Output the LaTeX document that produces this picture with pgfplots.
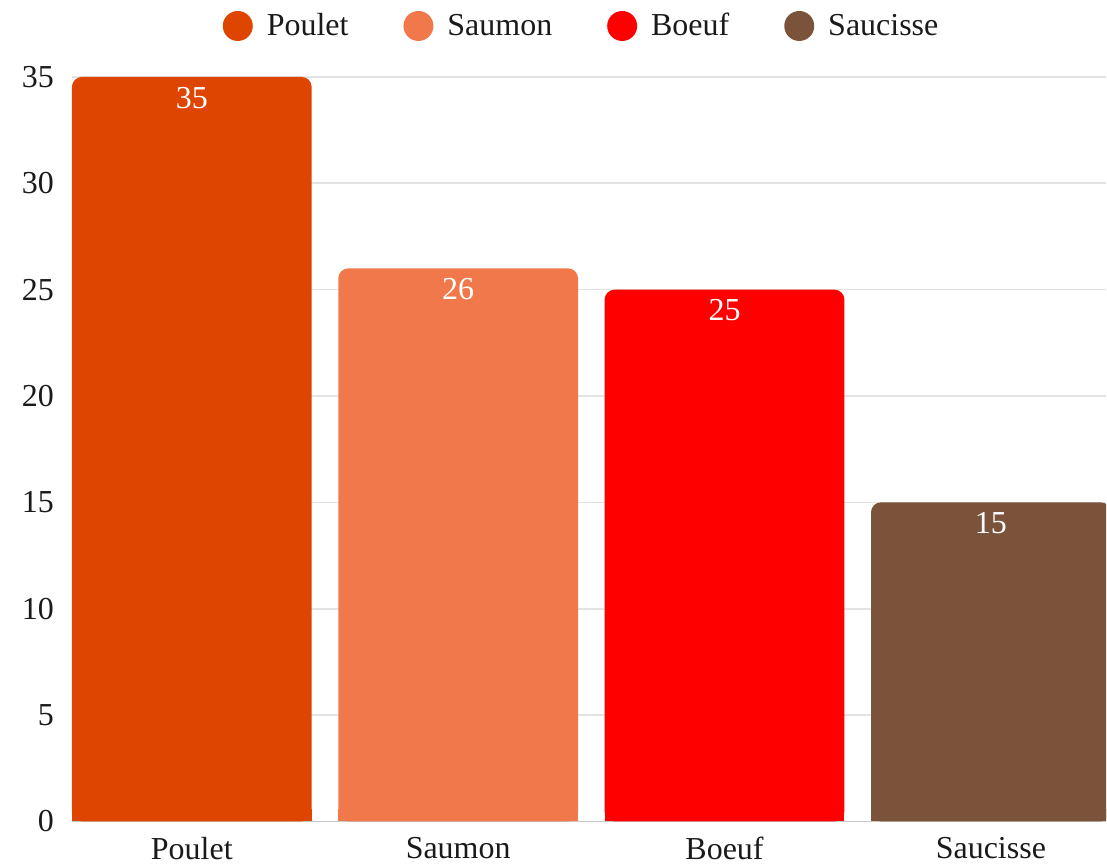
\documentclass[border=0pt]{standalone}
\usepackage{pgfplots}
\pgfplotsset{compat=1.18}
\usepackage{fontspec}
\setmainfont{Liberation Serif}
\definecolor{cPoulet}{HTML}{DD4500}
\definecolor{cSaumon}{HTML}{F0784A}
\definecolor{cBoeuf}{HTML}{FF0000}
\definecolor{cSaucisse}{HTML}{7B533A}
\definecolor{gridc}{HTML}{E3E3E3}
\definecolor{axc}{HTML}{C8C8C8}
\definecolor{txt}{HTML}{1A1A1A}
\pgfplotsset{
  mybar/.style={ybar, bar width=0.9, bar shift=0pt, draw=none,
    legend image code/.code={\fill[##1] (0pt,0pt) circle (7.5pt); \path (12.5pt,0pt);}},
}
\begin{document}
\begin{tikzpicture}
\begin{axis}[
  scale only axis, width=517.5pt, height=372.5pt,
  xmin=-0.45, xmax=3.433, ymin=0, ymax=35,
  xtick={0,1,2,3}, xticklabels={Poulet,Saumon,Boeuf,Saucisse},
  ytick={0,5,...,35},
  major tick length=0pt,
  axis x line*=bottom, axis y line*=left,
  x axis line style={draw=axc, line width=0.8pt, -},
  y axis line style={draw=none},
  ymajorgrids, grid style={draw=gridc, line width=0.8pt},
  tick label style={font=\fontsize{16}{19}\selectfont, text=txt},
  yticklabel style={xshift=-5.5pt},
  xticklabel style={yshift=-4.5pt},
  /pgf/number format/assume math mode=true,
  nodes near coords,
  every node near coord/.append style={anchor=north, yshift=-1.5pt, text=white, font=\fontsize{16}{19}\selectfont},
  legend columns=-1,
  legend style={draw=none, fill=none, at={(0.5,1)}, anchor=center, yshift=25.5pt, xshift=-3.25pt,
    font=\fontsize{16}{19}\selectfont, text=txt,
    /tikz/every even column/.append style={column sep=25.5pt}},
  clip=true,
]
\addplot[mybar, fill=cPoulet, rounded corners=5pt] coordinates {(0,35)};
\addlegendentry{Poulet}
\addplot[mybar, fill=cSaumon, rounded corners=5pt] coordinates {(1,26)};
\addlegendentry{Saumon}
\addplot[mybar, fill=cBoeuf, rounded corners=5pt] coordinates {(2,25)};
\addlegendentry{Boeuf}
\addplot[mybar, fill=cSaucisse, rounded corners=5pt] coordinates {(3,15)};
\addlegendentry{Saucisse}
% square bottoms for the bars
\addplot[mybar, fill=cPoulet, forget plot, nodes near coords={}, y filter/.expression={min(y,0.6)}] coordinates {(0,35)};
\addplot[mybar, fill=cSaumon, forget plot, nodes near coords={}, y filter/.expression={min(y,0.6)}] coordinates {(1,26)};
\addplot[mybar, fill=cBoeuf, forget plot, nodes near coords={}, y filter/.expression={min(y,0.6)}] coordinates {(2,25)};
\addplot[mybar, fill=cSaucisse, forget plot, nodes near coords={}, y filter/.expression={min(y,0.6)}] coordinates {(3,15)};
\end{axis}
\path (current axis.south west) ++(-36pt,-21.5pt) rectangle (current axis.north east);
\path (current axis.north east) ++(0pt,38.5pt);
\end{tikzpicture}
\end{document}
